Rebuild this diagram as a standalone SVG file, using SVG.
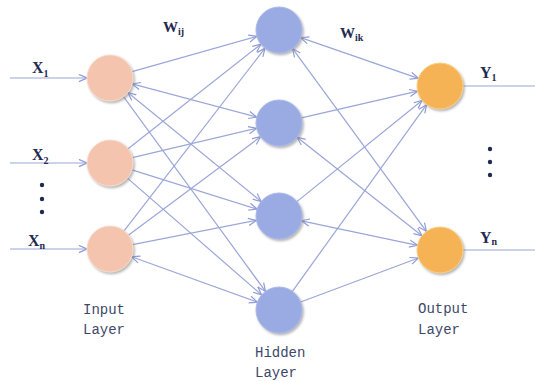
<svg xmlns="http://www.w3.org/2000/svg" width="535" height="381" viewBox="0 0 535 381">
<defs>
<marker id="arr" viewBox="0 0 10 10" refX="9.5" refY="5" markerWidth="9" markerHeight="9" markerUnits="userSpaceOnUse" orient="auto-start-reverse">
<path d="M0.5,1 L9.5,5 L0.5,9" fill="none" stroke="#8f9bd6" stroke-width="1.3"/>
</marker>
<filter id="sh" x="-30%" y="-30%" width="160%" height="160%">
<feDropShadow dx="1.5" dy="1.8" stdDeviation="1.2" flood-color="#7a7a7a" flood-opacity="0.55"/>
</filter>
</defs>
<style>
.e{stroke:#9ba6d8;stroke-width:1.2;fill:none;marker-end:url(#arr)}
.d{marker-start:url(#arr)}
.in{fill:#f4c4ae;stroke:#f7dccb;stroke-width:1;filter:url(#sh)}
.hd{fill:#9aaae3;stroke:#aab8ea;stroke-width:1;filter:url(#sh)}
.out{fill:#f5b354;stroke:#f8cf8a;stroke-width:1;filter:url(#sh)}
.v{font-family:"Liberation Serif",serif;font-weight:bold;fill:#1f2a50;font-size:16px}
.s{font-size:10px}
.w{font-size:15px}
.lb{font-family:"Liberation Mono","DejaVu Sans Mono",monospace;font-size:14px;fill:#3d4868}
.dot{fill:#1f2a50}
</style>
<g id="connectors">
<line class="e" x1="10" y1="78" x2="87" y2="78"/>
<line class="e" x1="10" y1="163" x2="87" y2="163"/>
<line class="e" x1="10" y1="249" x2="87" y2="249"/>
<line class="e" x1="132.1" y1="71.7" x2="256.9" y2="36.3"/>
<line class="e d" x1="132.2" y1="83.9" x2="256.8" y2="117.1"/>
<line class="e d" x1="127.8" y1="92.5" x2="261.2" y2="201.5"/>
<line class="e" x1="123.5" y1="96.6" x2="265.5" y2="291.4"/>
<line class="e" x1="128.1" y1="148.8" x2="260.9" y2="44.2"/>
<line class="e" x1="132.4" y1="157.7" x2="256.6" y2="128.3"/>
<line class="e" x1="132.0" y1="169.9" x2="257.1" y2="209.1"/>
<line class="e" x1="127.4" y1="178.1" x2="261.6" y2="294.9"/>
<line class="e" x1="124.1" y1="230.8" x2="265.0" y2="48.2"/>
<line class="e" x1="128.4" y1="235.3" x2="260.6" y2="136.7"/>
<line class="e" x1="132.6" y1="244.6" x2="256.4" y2="220.4"/>
<line class="e d" x1="131.6" y1="256.8" x2="257.4" y2="302.2"/>
<line class="e d" x1="300.7" y1="37.6" x2="418.3" y2="78.4"/>
<line class="e d" x1="292.6" y1="48.6" x2="426.4" y2="231.4"/>
<line class="e" x1="301.4" y1="117.9" x2="417.6" y2="91.2"/>
<line class="e d" x1="297.1" y1="137.2" x2="422.0" y2="235.8"/>
<line class="e" x1="296.9" y1="201.6" x2="422.1" y2="100.5"/>
<line class="e d" x1="301.5" y1="220.8" x2="417.5" y2="245.3"/>
<line class="e" x1="292.4" y1="291.3" x2="426.6" y2="104.7"/>
<line class="e" x1="300.6" y1="302.0" x2="418.4" y2="258.0"/>
<line x1="463" y1="86" x2="535" y2="86" stroke="#9ba6d8" stroke-width="1.2"/>
<line x1="463" y1="250" x2="535" y2="250" stroke="#9ba6d8" stroke-width="1.2"/>
</g>
<g id="input1"><circle class="in" cx="110" cy="78" r="23"/></g>
<g id="input2"><circle class="in" cx="110" cy="163" r="23"/></g>
<g id="input3"><circle class="in" cx="110" cy="249" r="23"/></g>
<g id="hidden1"><circle class="hd" cx="279" cy="30" r="23"/></g>
<g id="hidden2"><circle class="hd" cx="279" cy="123" r="23"/></g>
<g id="hidden3"><circle class="hd" cx="279" cy="216" r="23"/></g>
<g id="hidden4"><circle class="hd" cx="279" cy="310" r="23"/></g>
<g id="output1"><circle class="out" cx="440" cy="86" r="23"/></g>
<g id="output2"><circle class="out" cx="440" cy="250" r="23"/></g>
<g id="labels">
<text class="v" x="32" y="73">X<tspan class="s" dy="4">1</tspan></text>
<text class="v" x="32" y="160">X<tspan class="s" dy="4">2</tspan></text>
<text class="v" x="28" y="246">X<tspan class="s" dy="3">n</tspan></text>
<circle class="dot" cx="42" cy="185" r="2.2"/>
<circle class="dot" cx="42" cy="199" r="2.2"/>
<circle class="dot" cx="42" cy="212" r="2.2"/>
<circle class="dot" cx="490" cy="149" r="2.2"/>
<circle class="dot" cx="490" cy="162" r="2.2"/>
<circle class="dot" cx="490" cy="175" r="2.2"/>
<text class="v w" x="163" y="32">W<tspan class="s" dy="3">ij</tspan></text>
<text class="v w" x="340" y="38">W<tspan class="s" dy="3">ik</tspan></text>
<text class="v" x="480" y="78">Y<tspan class="s" dy="3">1</tspan></text>
<text class="v" x="480" y="243">Y<tspan class="s" dy="2">n</tspan></text>
<text class="lb" x="83" y="314">Input</text>
<text class="lb" x="83" y="334">Layer</text>
<text class="lb" x="255" y="357">Hidden</text>
<text class="lb" x="255" y="377">Layer</text>
<text class="lb" x="418" y="313">Output</text>
<text class="lb" x="418" y="334">Layer</text>
</g>
</svg>
